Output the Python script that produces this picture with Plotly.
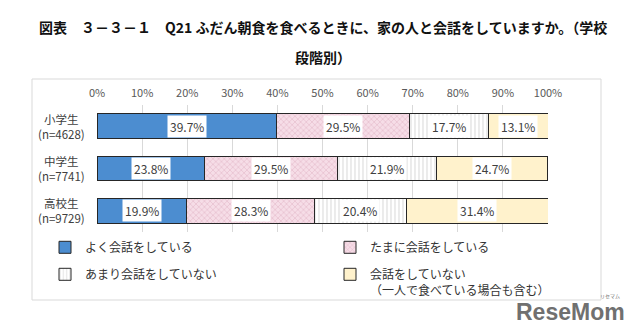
import plotly.graph_objects as go

categories = ["小学生", "中学生", "高校生"]
cat_labels = ["小学生<br>(n=4628)", "中学生<br>(n=7741)", "高校生<br>(n=9729)"]
series_names = ["よく会話をしている", "たまに会話をしている", "あまり会話をしていない",
                "会話をしていない<br>（一人で食べている場合も含む）"]
often = [39.7, 23.8, 19.9]
sometimes = [29.5, 29.5, 28.3]
rarely = [17.7, 21.9, 20.4]
never = [13.1, 24.7, 31.4]
x_ticks = [0, 10, 20, 30, 40, 50, 60, 70, 80, 90, 100]

series = [often, sometimes, rarely, never]
styles = [
    dict(color="#4C8DD0", pattern=None),
    dict(color="#F6DDE7", pattern=dict(shape="x", fgcolor="#C98AA3", bgcolor="#F6DDE7", size=4, solidity=0.25)),
    dict(color="#FFFFFF", pattern=dict(shape="|", fgcolor="#BDBDBD", bgcolor="#FFFFFF", size=4, solidity=0.3)),
    dict(color="#FFF2CC", pattern=None),
]
legend_ids = ["legend", "legend2", "legend", "legend2"]

PX_L, PX_R, PX_T, PX_B = 97, 548, 105, 232
W, H = PX_R - PX_L, PX_B - PX_T


def px_x(px):
    return (px - PX_L) / W


def px_y(py):
    return (PX_B - py) / H


fig = go.Figure()
for k, (name, vals, st, lg) in enumerate(zip(series_names, series, styles, legend_ids)):
    marker = dict(color=st["color"], line=dict(color="#262626", width=1))
    if st["pattern"]:
        marker["pattern"] = st["pattern"]
    fig.add_trace(go.Bar(y=categories, x=vals, name=name, orientation="h",
                         marker=marker, width=0.59, hoverinfo="skip",
                         legend=lg, legendgroup=f"g{k}"))

# data labels with white background
for i, cat in enumerate(categories):
    start = 0
    for vals in series:
        v = vals[i]
        fig.add_annotation(x=start + v / 2, y=cat, xref="x", yref="y",
                           text=f"{v}%", showarrow=False,
                           font=dict(size=12, color="#404040", family="Noto Sans CJK JP"),
                           bgcolor="white", borderpad=2)
        start += v

# category labels (centered two lines)
for cat, lab in zip(categories, cat_labels):
    fig.add_annotation(x=px_x(87), y=cat, xref="paper", yref="y", text=lab,
                       showarrow=False, xanchor="right", align="center",
                       font=dict(size=11.5, color="#404040", family="Noto Sans CJK JP"))

title_font = dict(size=14, color="#111111", family="Noto Sans CJK JP")
fig.add_annotation(x=0.5, y=px_y(27), xref="paper", yref="paper", yanchor="middle",
                   text="<b>図表　３－３－１　Q21 ふだん朝食を食べるときに、家の人と会話をしていますか。（学校</b>",
                   showarrow=False, font=title_font)
fig.add_annotation(x=0.5, y=px_y(57), xref="paper", yref="paper", yanchor="middle",
                   text="<b>段階別）</b>", showarrow=False, font=title_font)

fig.add_annotation(x=px_x(627), y=px_y(327), xref="paper", yref="paper",
                   xanchor="right", yanchor="bottom",
                   text="<b>ReseMom</b>", showarrow=False,
                   font=dict(size=23, color="#707070", family="Liberation Sans"))
fig.add_annotation(x=px_x(622), y=px_y(302), xref="paper", yref="paper",
                   xanchor="right", yanchor="bottom",
                   text="リセマム", showarrow=False,
                   font=dict(size=5, color="#707070", family="Noto Sans CJK JP"))

legend_common = dict(orientation="v", xanchor="left", yanchor="top",
                     traceorder="grouped", tracegroupgap=8,
                     font=dict(size=12, color="#333333", family="Noto Sans CJK JP"),
                     itemwidth=30, bgcolor="rgba(0,0,0,0)", valign="top")

fig.update_layout(
    width=640, height=334,
    margin=dict(l=PX_L, r=640 - PX_R, t=PX_T, b=334 - PX_B),
    barmode="stack",
    paper_bgcolor="white", plot_bgcolor="white",
    showlegend=True,
    legend=dict(x=px_x(45), y=px_y(233), **legend_common),
    legend2=dict(x=px_x(330), y=px_y(233), **legend_common),
    xaxis=dict(range=[0, 100], side="top", tickvals=x_ticks,
               ticktext=[f"{t}%" for t in x_ticks],
               showgrid=True, gridcolor="#D9D9D9", gridwidth=1,
               zeroline=False, showline=False, ticks="", ticklabelstandoff=5,
               tickfont=dict(size=11, color="#595959", family="Noto Sans CJK JP")),
    yaxis=dict(categoryorder="array", categoryarray=categories, autorange="reversed",
               showticklabels=False, showgrid=False, zeroline=False, ticks=""),
    shapes=[dict(type="rect", xref="paper", yref="paper",
                 x0=px_x(32), x1=px_x(601), y0=px_y(300), y1=px_y(79),
                 line=dict(color="#D9D9D9", width=1), layer="below")],
)

fig.write_html("out.html")
